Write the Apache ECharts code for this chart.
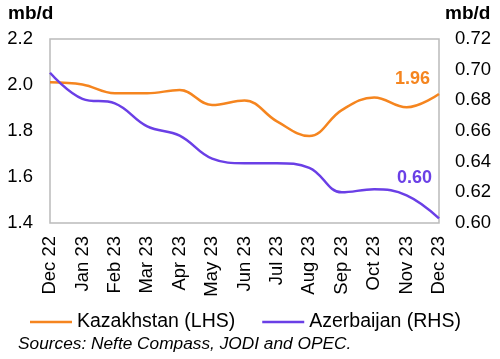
<!DOCTYPE html>
<html>
<head>
<meta charset="utf-8">
<script src="https://cdn.jsdelivr.net/npm/echarts@6/dist/echarts.min.js"></script>
<style>html,body{margin:0;padding:0;background:#fff}#c{width:500px;height:359px}</style>
</head>
<body>
<div id="c"></div>
<script>
const categories = ['Dec 22','Jan 23','Feb 23','Mar 23','Apr 23','May 23','Jun 23','Jul 23','Aug 23','Sep 23','Oct 23','Nov 23','Dec 23'];
const kazakhstan = [2.012, 2.002, 1.964, 1.964, 1.978, 1.913, 1.933, 1.842, 1.778, 1.891, 1.946, 1.903, 1.961];
const azerbaijan = [0.698, 0.681, 0.678, 0.663, 0.657, 0.642, 0.639, 0.639, 0.636, 0.620, 0.622, 0.618, 0.603];
const leftTicks = {min: 1.4, max: 2.2, interval: 0.2};
const rightTicks = {min: 0.60, max: 0.72, interval: 0.02};
const orange = '#F5851F';
const purple = '#6A3FE6';
const font = 'Liberation Sans, Arial, sans-serif';

const chart = echarts.init(document.getElementById('c'), null, {renderer: 'canvas'});
chart.setOption({
  animation: false,
  grid: {left: 50, right: 61, top: 39, bottom: 136, show: true, borderColor: '#bbbbbb', borderWidth: 1.5},
  legend: {
    left: 30, top: 312, padding: 0, itemWidth: 42, itemHeight: 2.5, itemGap: 27, icon: 'rect',
    textStyle: {fontSize: 19.5, color: '#000', fontFamily: font},
    data: ['Kazakhstan (LHS)', 'Azerbaijan (RHS)']
  },
  graphic: [
    {type: 'text', left: 8, top: 4, style: {text: 'mb/d', font: 'bold 19px ' + font, fill: '#000'}},
    {type: 'text', left: 445, top: 4, style: {text: 'mb/d', font: 'bold 19px ' + font, fill: '#000'}},
    {type: 'text', left: 18, top: 336, style: {text: 'Sources: Nefte Compass, JODI and OPEC.', font: 'italic 17.3px ' + font, fill: '#000'}}
  ],
  xAxis: {
    type: 'category', data: categories, boundaryGap: false,
    axisLine: {show: false}, axisTick: {show: false}, splitLine: {show: false},
    axisLabel: {rotate: 90, fontSize: 18.5, color: '#000', fontFamily: font, margin: 13, interval: 0}
  },
  yAxis: [
    {type: 'value', position: 'left', min: leftTicks.min, max: leftTicks.max, interval: leftTicks.interval,
      axisLine: {show: false}, axisTick: {show: false}, splitLine: {show: false},
      axisLabel: {fontSize: 18.5, color: '#000', fontFamily: font, margin: 17, formatter: v => v.toFixed(1)}},
    {type: 'value', position: 'right', min: rightTicks.min, max: rightTicks.max, interval: rightTicks.interval,
      axisLine: {show: false}, axisTick: {show: false}, splitLine: {show: false},
      axisLabel: {fontSize: 18.5, color: '#000', fontFamily: font, margin: 16, formatter: v => v.toFixed(2)}}
  ],
  series: [
    {name: 'Kazakhstan (LHS)', type: 'line', yAxisIndex: 0, smooth: 0.4, symbol: 'none',
      lineStyle: {color: orange, width: 2.5}, itemStyle: {color: orange},
      endLabel: {show: true, formatter: p => Number(p.value).toFixed(2), color: orange, fontWeight: 'bold', fontSize: 18, fontFamily: font, offset: [-52, -15]},
      data: kazakhstan},
    {name: 'Azerbaijan (RHS)', type: 'line', yAxisIndex: 1, smooth: 0.4, symbol: 'none',
      lineStyle: {color: purple, width: 2.5}, itemStyle: {color: purple},
      endLabel: {show: true, formatter: p => Number(p.value).toFixed(2), color: purple, fontWeight: 'bold', fontSize: 18, fontFamily: font, offset: [-50, -40]},
      data: azerbaijan}
  ]
});
</script>
</body>
</html>
